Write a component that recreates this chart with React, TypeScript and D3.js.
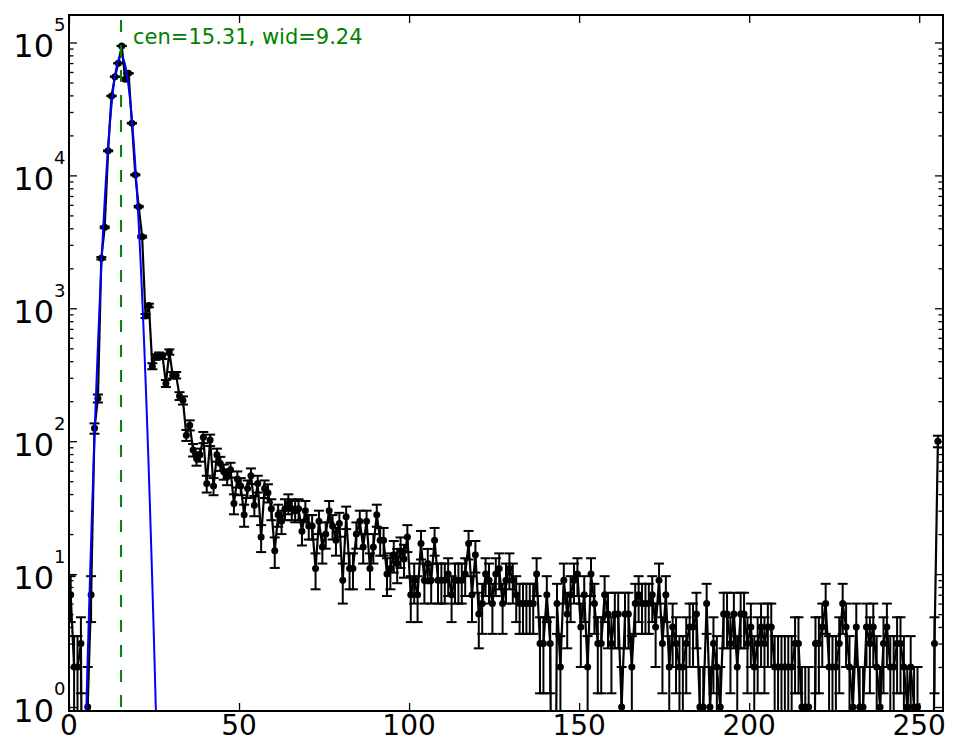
import React, { useEffect, useRef } from "react";
import * as d3 from "d3";

// counts per bin (bins 0..255)
const binCounts: number[] = [
  7, 2, 2, 3, 0, 1, 7, 125, 210, 2380, 4070, 15300, 39600, 55300, 69800, 94200,
  52900, 58600, 24700, 10100, 5820, 3460, 875, 1050, 367, 430, 444, 436, 272, 469, 314, 314,
  219, 203, 111, 132, 86, 74, 79, 107, 48, 102, 46, 79, 68, 59, 54, 61,
  34, 52, 46, 28, 44, 55, 33, 48, 19, 44, 41, 31, 15, 28, 25, 31,
  34, 31, 30, 31, 21, 30, 23, 23, 11, 25, 16, 20, 30, 23, 18, 24,
  9, 27, 11, 11, 20, 25, 16, 25, 11, 16, 28, 18, 18, 10, 11, 14,
  12, 15, 13, 19, 7, 9, 7, 17, 9, 12, 9, 18, 9, 9, 9, 10,
  7, 9, 9, 9, 10, 17, 7, 14, 5, 6, 10, 9, 6, 10, 11, 6,
  9, 11, 9, 7, 6, 6, 6, 6, 6, 10, 3, 3, 7, 3, 0, 6,
  2, 9, 5, 7, 9, 10, 4, 7, 2, 10, 6, 3, 3, 7, 5, 3,
  5, 5, 1, 5, 5, 2, 6, 7, 6, 6, 6, 7, 4, 9, 3, 7,
  2, 4, 3, 2, 2, 3, 4, 4, 5, 1, 1, 6, 1, 3, 2, 1,
  5, 5, 3, 5, 2, 5, 5, 3, 4, 2, 3, 4, 3, 4, 4, 2,
  2, 2, 2, 2, 2, 3, 3, 1, 1, 1, 0, 3, 3, 4, 6, 2,
  2, 2, 3, 6, 4, 2, 1, 4, 1, 1, 4, 3, 4, 2, 1, 3,
  4, 2, 2, 3, 3, 2, 1, 2, 1, 1, 0, 0, 0, 0, 3, 100,
];

const xTicks = [0, 50, 100, 150, 200, 250];
const yExponents = [0, 1, 2, 3, 4, 5];

// gaussian fit: amp * exp(-(x - cen)^2 / wid)
const fitCenter = 15.31;
const fitWidth = 9.24;
const fitAmplitude = 79000;

const App: React.FC = () => {
  const svgRef = useRef<SVGSVGElement>(null);

  useEffect(() => {
    const width = 965;
    const height = 756;
    const margin = { top: 15, right: 22, bottom: 45, left: 69 };
    const innerWidth = width - margin.left - margin.right;
    const innerHeight = height - margin.top - margin.bottom;
    const font = "'DejaVu Sans', sans-serif";

    const svg = d3.select(svgRef.current).attr("width", width).attr("height", height);
    svg.selectAll("*").remove();

    const xScale = d3.scaleLinear().domain([0, 257]).range([0, innerWidth]);
    const yScale = d3.scaleLog().domain([0.933, 1.61e5]).range([innerHeight, 0]);
    // values <= 0 are pushed far below the axes and clipped away
    const yPos = (v: number) => yScale(Math.max(v, 1e-3));

    svg.append("rect").attr("width", width).attr("height", height).attr("fill", "white");

    svg
      .append("defs")
      .append("clipPath")
      .attr("id", "plotClip")
      .append("rect")
      .attr("width", innerWidth)
      .attr("height", innerHeight);

    const g = svg.append("g").attr("transform", `translate(${margin.left},${margin.top})`);
    const plot = g.append("g").attr("clip-path", "url(#plotClip)");

    const points = binCounts.map((c, i) => ({ x: i + 0.5, y: c }));

    // error bars, sqrt(N)
    const capHalf = 5;
    const bars = plot
      .append("g")
      .attr("stroke", "black")
      .attr("stroke-width", 2)
      .selectAll("g")
      .data(points.filter((d) => d.y > 0))
      .join("g");
    bars
      .append("line")
      .attr("x1", (d) => xScale(d.x))
      .attr("x2", (d) => xScale(d.x))
      .attr("y1", (d) => yPos(d.y - Math.sqrt(d.y)))
      .attr("y2", (d) => yPos(d.y + Math.sqrt(d.y)));
    bars
      .append("line")
      .attr("x1", (d) => xScale(d.x) - capHalf)
      .attr("x2", (d) => xScale(d.x) + capHalf)
      .attr("y1", (d) => yPos(d.y + Math.sqrt(d.y)))
      .attr("y2", (d) => yPos(d.y + Math.sqrt(d.y)));
    bars
      .append("line")
      .attr("x1", (d) => xScale(d.x) - capHalf)
      .attr("x2", (d) => xScale(d.x) + capHalf)
      .attr("y1", (d) => yPos(d.y - Math.sqrt(d.y)))
      .attr("y2", (d) => yPos(d.y - Math.sqrt(d.y)));

    // connecting line
    const dataLine = d3
      .line<{ x: number; y: number }>()
      .x((d) => xScale(d.x))
      .y((d) => yPos(d.y));
    plot
      .append("path")
      .datum(points)
      .attr("d", dataLine)
      .attr("fill", "none")
      .attr("stroke", "black")
      .attr("stroke-width", 2.2)
      .attr("stroke-linejoin", "round");

    plot
      .append("g")
      .selectAll("circle")
      .data(points)
      .join("circle")
      .attr("cx", (d) => xScale(d.x))
      .attr("cy", (d) => yPos(d.y))
      .attr("r", 3.5)
      .attr("fill", "black");

    // gaussian fit curve
    const fitX = d3.range(0, 257.001, 0.05);
    const fitLine = d3
      .line<number>()
      .x((x) => xScale(x))
      .y((x) => yPos(fitAmplitude * Math.exp(-((x - fitCenter) ** 2) / fitWidth)));
    plot
      .append("path")
      .datum(fitX.filter((x) => Math.abs(x - fitCenter) < 14))
      .attr("d", fitLine)
      .attr("fill", "none")
      .attr("stroke", "#0000ff")
      .attr("stroke-width", 2);

    // centre marker
    plot
      .append("line")
      .attr("x1", xScale(fitCenter))
      .attr("x2", xScale(fitCenter))
      .attr("y1", innerHeight)
      .attr("y2", 0)
      .attr("stroke", "#008000")
      .attr("stroke-width", 2)
      .attr("stroke-dasharray", "12,13")
      .attr("stroke-dashoffset", 21);

    g.append("text")
      .text(`cen=${fitCenter.toFixed(2)}, wid=${fitWidth.toFixed(2)}`)
      .attr("x", xScale(fitCenter) + 12)
      .attr("y", yScale(1e5) + 1.2)
      .attr("font-family", font)
      .attr("font-size", 21)
      .attr("fill", "#008000");

    // ticks (inside, all four sides)
    const majorY = yExponents.map((e) => Math.pow(10, e));
    const minorY: number[] = [];
    for (let e = -1; e <= 5; e++) {
      for (let m = 2; m <= 9; m++) {
        const v = m * Math.pow(10, e);
        if (v >= 0.933 && v <= 1.61e5) minorY.push(v);
      }
    }
    const styleAxis = (sel: d3.Selection<SVGGElement, unknown, null, undefined>) => {
      sel.select(".domain").remove();
      sel.selectAll(".tick line").attr("stroke", "black").attr("stroke-width", 1.3);
      sel.selectAll(".tick text").remove();
    };
    const noLabel = () => "";

    g.append("g")
      .call(d3.axisLeft(yScale).tickValues(majorY).tickSize(-8).tickFormat(noLabel))
      .call(styleAxis);
    g.append("g")
      .call(d3.axisLeft(yScale).tickValues(minorY).tickSize(-4.5).tickFormat(noLabel))
      .call(styleAxis);
    g.append("g")
      .attr("transform", `translate(${innerWidth},0)`)
      .call(d3.axisRight(yScale).tickValues(majorY).tickSize(-8).tickFormat(noLabel))
      .call(styleAxis);
    g.append("g")
      .attr("transform", `translate(${innerWidth},0)`)
      .call(d3.axisRight(yScale).tickValues(minorY).tickSize(-4.5).tickFormat(noLabel))
      .call(styleAxis);
    g.append("g")
      .attr("transform", `translate(0,${innerHeight})`)
      .call(d3.axisBottom(xScale).tickValues(xTicks).tickSize(-8).tickFormat(noLabel))
      .call(styleAxis);
    g.append("g")
      .call(d3.axisTop(xScale).tickValues(xTicks).tickSize(-8).tickFormat(noLabel))
      .call(styleAxis);

    // frame
    g.append("rect")
      .attr("width", innerWidth)
      .attr("height", innerHeight)
      .attr("fill", "none")
      .attr("stroke", "black")
      .attr("stroke-width", 2);

    // tick labels
    xTicks.forEach((t) => {
      g.append("text")
        .text(String(t))
        .attr("x", xScale(t))
        .attr("y", innerHeight + 24)
        .attr("text-anchor", "middle")
        .attr("font-family", font)
        .attr("font-size", 28);
    });

    yExponents.forEach((e) => {
      const ty = yScale(Math.pow(10, e));
      g.append("text")
        .text("10")
        .attr("x", -15)
        .attr("y", ty + 15)
        .attr("text-anchor", "end")
        .attr("font-family", font)
        .attr("font-size", 32);
      g.append("text")
        .text(String(e))
        .attr("x", -15)
        .attr("y", ty - 11.5)
        .attr("text-anchor", "start")
        .attr("font-family", font)
        .attr("font-size", 18);
    });
  });

  return (
    <svg ref={svgRef} style={{ position: "absolute", left: 0, top: 0 }}></svg>
  );
};

export default App;
